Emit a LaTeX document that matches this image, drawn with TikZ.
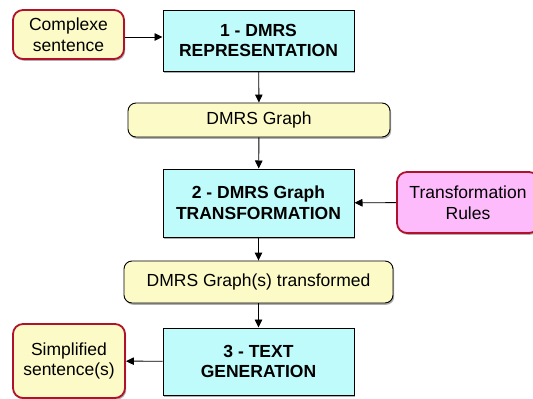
\documentclass[tikz,border=0pt]{standalone}
\usepackage{fontspec}
\setmainfont{Liberation Sans}
\usetikzlibrary{arrows.meta,shadows}
\definecolor{stepcyan}{HTML}{BFFBFB}
\definecolor{noteyellow}{HTML}{FCFAC6}
\definecolor{notepink}{HTML}{FDBBFC}
\definecolor{borderred}{HTML}{B0122C}
\tikzset{
  shad/.style={drop shadow={shadow xshift=1.2pt,shadow yshift=-1.8pt,opacity=0.45,fill=black!70}},
  stepbox/.style={draw=black,line width=1pt,fill=stepcyan,shad,inner sep=0pt,
    font=\fontsize{17.5}{20.8}\selectfont\bfseries,align=center,minimum width=191pt,minimum height=61pt},
  databox/.style={draw=black,line width=0.9pt,fill=noteyellow,rounded corners=8pt,shad,inner sep=0pt,
    font=\fontsize{17.5}{20.8}\selectfont,align=center,minimum height=34pt},
  iobox/.style={draw=borderred,line width=1.8pt,rounded corners=10pt,shad,inner sep=0pt,
    font=\fontsize{17.5}{20.8}\selectfont,align=center},
  arr/.style={draw=black,line width=0.9pt,-{Triangle[length=8pt,width=7.5pt]}},
}
\begin{document}
\begin{tikzpicture}[x=1pt,y=-1pt]
\clip (0,0) rectangle (533,399);
\useasboundingbox (0,0) rectangle (533,399);
\node[stepbox] (s1) at (258.5,40.5) {1 - DMRS\\REPRESENTATION};
\node[iobox,fill=noteyellow,minimum width=111pt,minimum height=49pt] (in) at (68.5,34.5) {Complexe\\sentence};
\node[databox,minimum width=262pt] (g1) at (259,120) {DMRS Graph};
\node[stepbox,minimum height=68pt] (s2) at (258.5,203) {2 - DMRS Graph\\TRANSFORMATION};
\node[iobox,fill=notepink,minimum width=142pt,minimum height=61pt] (rules) at (468,202.5) {Transformation\\Rules};
\node[databox,minimum width=269pt,minimum height=42pt] (g2) at (258.5,282) {DMRS Graph(s) transformed};
\node[stepbox,minimum height=67pt] (s3) at (258.5,361.5) {3 - TEXT\\GENERATION};
\node[iobox,fill=noteyellow,minimum width=112pt,minimum height=74pt] (out) at (69,361) {Simplified\\sentence(s)};
\draw[arr] (in.east |- 0,37) -- (s1.west |- 0,37);
\draw[arr] (s1) -- (g1);
\draw[arr] (g1) -- (s2);
\draw[arr] (rules) -- (s2);
\draw[arr] (s2) -- (g2);
\draw[arr] (g2) -- (s3);
\draw[arr] (s3) -- (out);
\end{tikzpicture}
\end{document}
